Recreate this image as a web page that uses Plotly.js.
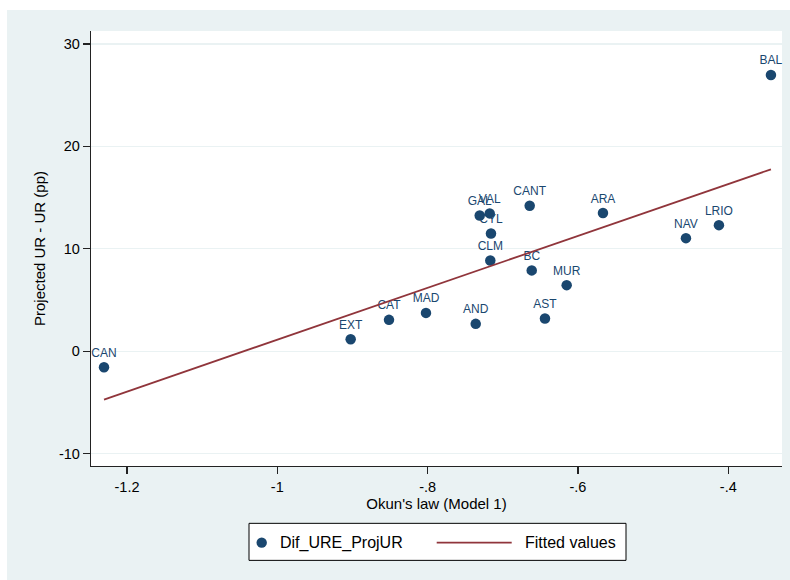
<!DOCTYPE html>
<html>
<head>
<meta charset="utf-8">
<script src="https://cdn.plot.ly/plotly-3.0.1.min.js"></script>
<style>
  html, body { margin: 0; padding: 0; background: #ffffff; }
  #chart { position: absolute; left: 7px; top: 10px; width: 783px; height: 570px; }
</style>
</head>
<body>
<div id="chart"></div>
<script>
// Regions and their values
const regions = ['CAN', 'EXT', 'CAT', 'MAD', 'AND', 'GAL', 'VAL', 'CYL', 'CLM',
                 'CANT', 'BC', 'AST', 'MUR', 'ARA', 'NAV', 'LRIO', 'BAL'];
const okunModel1 = [-1.2306, -0.9024, -0.8514, -0.8022, -0.7360, -0.7307, -0.7174, -0.7157, -0.7166,
                    -0.6642, -0.6615, -0.6439, -0.6150, -0.5667, -0.4563, -0.4124, -0.3432];
const difUreProjUR = [-1.56, 1.17, 3.06, 3.74, 2.67, 13.26, 13.46, 11.50, 8.86,
                      14.20, 7.89, 3.20, 6.45, 13.49, 11.04, 12.31, 26.97];

// Axis ticks
const xTickVals = [-1.2, -1, -0.8, -0.6, -0.4];
const xTickText = ['-1.2', '-1', '-.8', '-.6', '-.4'];
const yTickVals = [-10, 0, 10, 20, 30];
const yTickText = ['-10', '0', '10', '20', '30'];

const seriesNames = ['Dif_URE_ProjUR', 'Fitted values'];

// Linear fit (OLS) of the scatter
function linearFit(x, y) {
  const n = x.length;
  const mx = x.reduce((a, b) => a + b, 0) / n;
  const my = y.reduce((a, b) => a + b, 0) / n;
  let sxy = 0, sxx = 0;
  for (let i = 0; i < n; i++) {
    sxy += (x[i] - mx) * (y[i] - my);
    sxx += (x[i] - mx) * (x[i] - mx);
  }
  const slope = sxy / sxx;
  return { slope: slope, intercept: my - slope * mx };
}
const fit = linearFit(okunModel1, difUreProjUR);
const fitX = okunModel1.slice().sort((a, b) => a - b);
const fitY = fitX.map(v => fit.intercept + fit.slope * v);

const navy = '#1a476f';
const maroon = '#90353b';
const bg = '#eaf2f3';
const font = 'Liberation Sans, Arial, sans-serif';

// Page-pixel helpers for the legend box below the plot
const plotLeft = 91, plotRight = 782, plotTop = 31, plotBottom = 465.7;
const px = v => (v - plotLeft) / (plotRight - plotLeft);
const py = v => (plotBottom - v) / (plotBottom - plotTop);

const traces = [
  {
    type: 'scatter', mode: 'markers+text',
    x: okunModel1, y: difUreProjUR, text: regions,
    name: seriesNames[0],
    textposition: 'top center',
    textfont: { family: font, size: 12, color: navy },
    marker: { color: navy, size: 10.5, line: { width: 0 } },
    cliponaxis: false, showlegend: false, hoverinfo: 'skip'
  },
  {
    type: 'scatter', mode: 'lines',
    x: fitX, y: fitY, name: seriesNames[1],
    line: { color: maroon, width: 1.8 },
    showlegend: false, hoverinfo: 'skip'
  }
];

const legY = 542.3;
const layout = {
  width: 783, height: 570,
  margin: { l: plotLeft - 7, r: 790 - plotRight, t: plotTop - 10, b: 580 - plotBottom },
  paper_bgcolor: bg,
  plot_bgcolor: '#ffffff',
  font: { family: font, color: '#000000' },
  xaxis: {
    range: [-1.2479, -0.3285],
    tickvals: xTickVals, ticktext: xTickText,
    ticks: 'outside', ticklen: 7, tickwidth: 1.2, tickcolor: '#222222',
    showline: true, linecolor: '#222222', linewidth: 1.2,
    showgrid: false, zeroline: false,
    tickfont: { size: 14.5, color: '#000000' },
    title: { text: "Okun's law (Model 1)", font: { size: 15, color: '#000000' }, standoff: 3 }
  },
  yaxis: {
    range: [-11.21, 31.27],
    tickvals: yTickVals, ticktext: yTickText,
    ticks: 'outside', ticklen: 7, tickwidth: 1.2, tickcolor: '#222222',
    showline: true, linecolor: '#222222', linewidth: 1.2,
    showgrid: true, gridcolor: bg, gridwidth: 1.2, zeroline: false,
    tickfont: { size: 14.5, color: '#000000' },
    title: { text: 'Projected UR - UR (pp)', font: { size: 15, color: '#000000' }, standoff: 9 }
  },
  shapes: [
    { type: 'rect', xref: 'paper', yref: 'paper',
      x0: px(249), x1: px(626), y0: py(523), y1: py(560),
      line: { color: '#000000', width: 1 }, fillcolor: '#ffffff' },
    { type: 'circle', xref: 'paper', yref: 'paper',
      x0: px(261.7 - 5.2), x1: px(261.7 + 5.2), y0: py(legY - 5.2), y1: py(legY + 5.2),
      line: { width: 0 }, fillcolor: navy },
    { type: 'line', xref: 'paper', yref: 'paper',
      x0: px(436.7), x1: px(511.7), y0: py(legY), y1: py(legY),
      line: { color: maroon, width: 1.8 } }
  ],
  annotations: [
    { xref: 'paper', yref: 'paper', x: px(278), y: py(legY), xanchor: 'left', yanchor: 'middle',
      text: seriesNames[0], showarrow: false, font: { size: 16, color: '#000000' } },
    { xref: 'paper', yref: 'paper', x: px(523), y: py(legY), xanchor: 'left', yanchor: 'middle',
      text: seriesNames[1], showarrow: false, font: { size: 16, color: '#000000' } }
  ]
};

Plotly.newPlot('chart', traces, layout, { displayModeBar: false, staticPlot: true });
</script>
</body>
</html>
